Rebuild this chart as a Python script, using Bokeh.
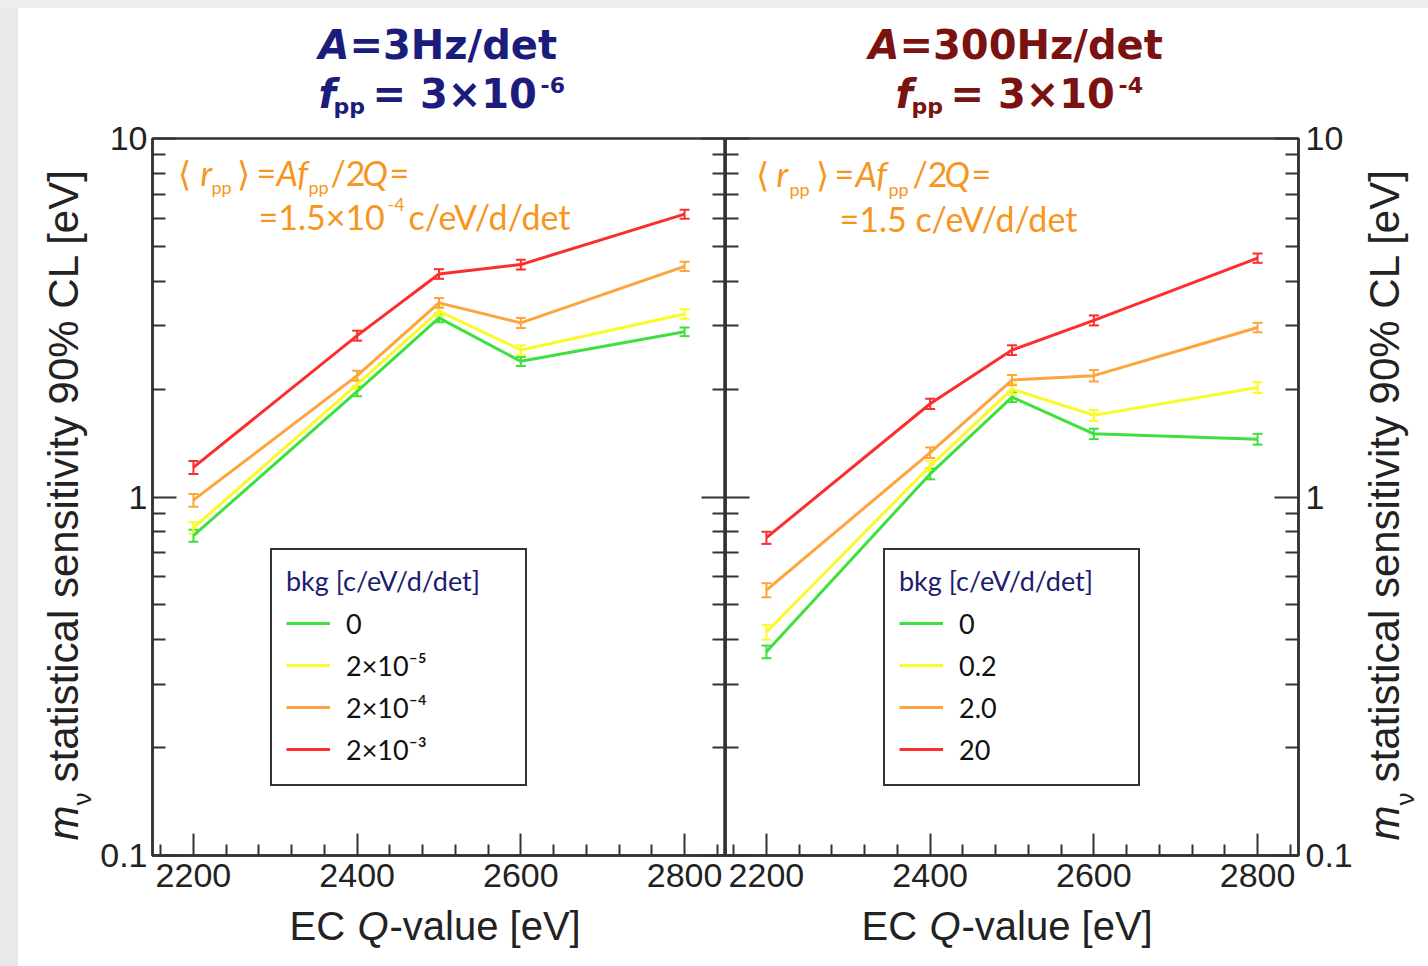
import math
from bokeh.plotting import figure
from bokeh.models import (LogAxis, FixedTicker, Range1d, Label, Legend, LegendItem, Whisker,
                          TeeHead, ColumnDataSource, Div, CustomJSTickFormatter)
from bokeh.layouts import row, column
from bokeh.embed import file_html
from bokeh.resources import INLINE

# ---------------- data ----------------
q_values = [2200, 2400, 2500, 2600, 2800]
x_ticks = [2200, 2400, 2600, 2800]
y_ticks = [0.1, 1, 10]

series_colors = ["#3ee03e", "#fafa2a", "#ffa43a", "#fb2d2d"]

# Panel 1: A = 3 Hz/det, f_pp = 3e-6
left_bkg_labels = ["0", "2×10⁻⁵", "2×10⁻⁴", "2×10⁻³"]
left_bkg0 = [0.78, 1.97, 3.16, 2.39, 2.89]
left_bkg1 = [0.82, 2.06, 3.30, 2.57, 3.24]
left_bkg2 = [0.98, 2.18, 3.48, 3.06, 4.40]
left_bkg3 = [1.21, 2.82, 4.19, 4.45, 6.15]
left_err0 = [0.03, 0.06, 0.09, 0.07, 0.08]
left_err1 = [0.03, 0.06, 0.10, 0.08, 0.10]
left_err2 = [0.04, 0.07, 0.11, 0.10, 0.13]
left_err3 = [0.05, 0.09, 0.13, 0.14, 0.18]

# Panel 2: A = 300 Hz/det, f_pp = 3e-4
right_bkg_labels = ["0", "0.2", "2.0", "20"]
right_bkg0 = [0.37, 1.16, 1.90, 1.50, 1.45]
right_bkg1 = [0.42, 1.22, 2.00, 1.69, 2.02]
right_bkg2 = [0.55, 1.33, 2.12, 2.18, 2.97]
right_bkg3 = [0.77, 1.82, 2.57, 3.11, 4.64]
right_err0 = [0.015, 0.04, 0.06, 0.05, 0.05]
right_err1 = [0.02, 0.04, 0.07, 0.06, 0.07]
right_err2 = [0.025, 0.045, 0.07, 0.08, 0.09]
right_err3 = [0.03, 0.06, 0.08, 0.10, 0.14]

legend_title = "bkg [c/eV/d/det]"
y_label_rest = "statistical sensitivity 90% CL [eV]"

# ---------------- style constants ----------------
AXIS_COLOR = "#333333"
TEXT_COLOR = "#222222"
ORANGE = "#f7961f"
NAVY = "#1c1c7c"
DARKRED = "#7a1212"

# page geometry (pixels)
TOP_STRIP = 8
LEFT_STRIP = 18
PANEL_TOP = 119                   # title canvas: page y 8..119
TITLE_H = PANEL_TOP - TOP_STRIP
FRAME_TOP = 138
FRAME_BOTTOM = 855
XLAB_TOP = 902
PAGE_H = 966
LLAB_W = 78                       # page x 18..96
PL_W = 629                        # page x 96..725
PR_W = 635                        # page x 725..1360
RLAB_W = 68                       # page x 1360..1428


def style_axis(ax, show_labels=True, major_in=22, minor_in=11):
    ax.axis_line_color = AXIS_COLOR
    ax.axis_line_width = 2.5
    ax.major_tick_line_color = AXIS_COLOR
    ax.major_tick_line_width = 2
    ax.minor_tick_line_color = AXIS_COLOR
    ax.minor_tick_line_width = 2
    ax.major_tick_in = major_in
    ax.major_tick_out = 0
    ax.minor_tick_in = minor_in
    ax.minor_tick_out = 0
    ax.major_label_text_font = "Liberation Sans"
    ax.major_label_text_font_size = "34px"
    ax.major_label_text_color = TEXT_COLOR
    if not show_labels:
        ax.formatter = CustomJSTickFormatter(code="return ''")
        ax.major_label_standoff = 0


def add_text(p, x0, y0, px, py, text, size, color, font, style="normal", angle=0.0):
    """Place a text by page position; (x0, y0) = page position of the frame's bottom-left."""
    p.add_layout(Label(x=px - x0, y=y0 - py, x_units="screen", y_units="screen",
                       text=text, text_font=font, text_font_size=f"{size}px",
                       text_color=color, text_font_style=style, angle=angle,
                       text_align="left", text_baseline="middle"))


def text_canvas(width, height):
    p = figure(width=width, height=height, x_range=Range1d(0, 1), y_range=Range1d(0, 1),
               x_axis_location=None, y_axis_location=None, output_backend="svg",
               toolbar_location=None, min_border=0)
    p.grid.visible = False
    p.outline_line_color = None
    p.background_fill_color = "white"
    p.border_fill_color = "white"
    return p


def build_panel(side, values, errors, labels, width, border_left, border_right):
    p = figure(width=width, height=XLAB_TOP - PANEL_TOP, x_range=Range1d(2150, 2850),
               y_range=Range1d(0.1, 10), y_axis_type="log", y_axis_location=side,
               output_backend="svg", toolbar_location=None,
               min_border_left=border_left, min_border_right=border_right,
               min_border_top=FRAME_TOP - PANEL_TOP, min_border_bottom=XLAB_TOP - FRAME_BOTTOM)
    p.xgrid.visible = False
    p.ygrid.visible = False
    p.outline_line_color = AXIS_COLOR
    p.outline_line_width = 2.5
    p.background_fill_color = "white"
    p.border_fill_color = "white"

    xt = FixedTicker(ticks=x_ticks,
                     minor_ticks=[v for v in range(2160, 2850, 40) if v % 200 != 0])
    yt = FixedTicker(ticks=y_ticks,
                     minor_ticks=[k * 10.0 ** e for e in (-1, 0) for k in range(2, 10)])

    xa = p.xaxis[0]
    xa.ticker = xt
    style_axis(xa)
    xa.major_label_standoff = 8

    ya = p.yaxis[0]
    ya.ticker = yt
    ya.formatter = CustomJSTickFormatter(code="return tick.toString()")
    style_axis(ya, major_in=24, minor_in=13)
    ya.major_label_standoff = 5 if side == "left" else 7

    other = LogAxis(ticker=yt)
    style_axis(other, show_labels=False, major_in=24, minor_in=13)
    p.add_layout(other, "right" if side == "left" else "left")

    items = []
    for vals, errs, color, lab in zip(values, errors, series_colors, labels):
        src = ColumnDataSource(dict(q=q_values, v=vals,
                                    hi=[a + b for a, b in zip(vals, errs)],
                                    lo=[a - b for a, b in zip(vals, errs)]))
        r = p.line(x="q", y="v", source=src, line_color=color, line_width=3)
        w = Whisker(source=src, base="q", upper="hi", lower="lo", dimension="height",
                    line_color=color, line_width=2,
                    upper_head=TeeHead(size=10, line_color=color, line_width=2),
                    lower_head=TeeHead(size=10, line_color=color, line_width=2))
        p.add_layout(w)
        items.append(LegendItem(label=lab, renderers=[r]))
    return p, items


def add_legend(p, items, loc):
    leg = Legend(items=items, location=loc, title=legend_title,
                 title_text_font="Lato", title_text_font_size="27px",
                 title_text_color="#1c1c6e", title_text_font_style="normal",
                 title_standoff=5,
                 label_text_font="Lato", label_text_font_size="27px", label_text_color="#111111",
                 glyph_width=44, glyph_height=42, label_height=42, label_width=165,
                 label_standoff=16, padding=14, spacing=0, margin=0,
                 border_line_color="#333333", border_line_width=2.5, border_line_alpha=1.0,
                 background_fill_color="white", background_fill_alpha=1.0)
    p.add_layout(leg)


# ---------------- panels ----------------
pl, items_l = build_panel("left",
                          [left_bkg0, left_bkg1, left_bkg2, left_bkg3],
                          [left_err0, left_err1, left_err2, left_err3],
                          left_bkg_labels, PL_W, 56, 0)
add_legend(pl, items_l, (118, 69))
for t, x, y, s, st in [("⟨", 177, 172, 34, "normal"), ("r", 200, 172, 34, "italic"),
                       ("pp", 211, 186, 18, "normal"), ("⟩", 236, 172, 34, "normal"),
                       ("=", 256, 172, 34, "normal"), ("Af", 276, 172, 34, "italic"),
                       ("pp", 308, 186, 18, "normal"), ("/2", 330, 172, 34, "normal"),
                       ("Q", 362, 172, 34, "italic"), ("=", 389, 172, 34, "normal"),
                       ("=1.5×10", 258, 216, 34, "normal"), ("-4", 387, 204, 18, "normal"),
                       ("c/eV/d/det", 408, 216, 34, "normal")]:
    add_text(pl, 152, FRAME_BOTTOM, x, y, t, s, ORANGE, "Lato", st)

pr, items_r = build_panel("right",
                          [right_bkg0, right_bkg1, right_bkg2, right_bkg3],
                          [right_err0, right_err1, right_err2, right_err3],
                          right_bkg_labels, PR_W, 0, 62)
add_legend(pr, items_r, (158, 69))
for t, x, y, s, st in [("⟨", 755, 173, 34, "normal"), ("r", 776, 173, 34, "italic"),
                       ("pp", 789, 188, 18, "normal"), ("⟩", 815, 173, 34, "normal"),
                       ("=", 834, 173, 34, "normal"), ("Af", 855, 173, 34, "italic"),
                       ("pp", 888, 188, 18, "normal"), ("/2", 912, 173, 34, "normal"),
                       ("Q", 944, 173, 34, "italic"), ("=", 971, 173, 34, "normal"),
                       ("=1.5 c/eV/d/det", 839, 218, 34, "normal")]:
    add_text(pr, 725, FRAME_BOTTOM, x, y, t, s, ORANGE, "Lato", st)

# ---------------- title canvas ----------------
tf = text_canvas(1428 - LEFT_STRIP, TITLE_H)
for t, x, y, s, st, c in [
        ("A", 318, 44, 40, "bold italic", NAVY), ("=3Hz/det", 349, 44, 40, "bold", NAVY),
        ("f", 318, 93, 40, "bold italic", NAVY), ("pp", 333, 106, 22, "bold", NAVY),
        ("= 3×10", 372, 93, 40, "bold", NAVY), ("-6", 540, 84, 22, "bold", NAVY),
        ("A", 868, 44, 40, "bold italic", DARKRED), ("=300Hz/det", 899, 44, 40, "bold", DARKRED),
        ("f", 895, 93, 40, "bold italic", DARKRED), ("pp", 911, 106, 22, "bold", DARKRED),
        ("= 3×10", 950, 93, 40, "bold", DARKRED), ("-4", 1118, 84, 22, "bold", DARKRED)]:
    add_text(tf, LEFT_STRIP, PANEL_TOP, x, y, t, s, c, "DejaVu Sans", st)

# ---------------- y-label canvases ----------------
ylf = text_canvas(LLAB_W, PAGE_H - PANEL_TOP)
for t, cx, y, s, st in [("m", 63, 840, 42, "italic"), ("ν", 81, 805, 26, "normal"),
                        (y_label_rest, 63, 782, 42, "normal")]:
    add_text(ylf, LEFT_STRIP, PAGE_H, cx, y, t, s, TEXT_COLOR, "Liberation Sans", st,
             angle=math.pi / 2)

yrf = text_canvas(RLAB_W, PAGE_H - PANEL_TOP)
for t, cx, y, s, st in [("m", 1384, 840, 42, "italic"), ("ν", 1404, 805, 26, "normal"),
                        (y_label_rest, 1384, 782, 42, "normal")]:
    add_text(yrf, 1360, PAGE_H, cx, y, t, s, TEXT_COLOR, "Liberation Sans", st,
             angle=math.pi / 2)

# ---------------- x-label canvas ----------------
xlf = text_canvas(PL_W + PR_W, PAGE_H - XLAB_TOP)
x0 = LEFT_STRIP + LLAB_W
for t, x, st in [("EC ", 289, "normal"), ("Q", 357, "italic"), ("-value [eV]", 389, "normal"),
                 ("EC ", 861, "normal"), ("Q", 929, "italic"), ("-value [eV]", 961, "normal")]:
    add_text(xlf, x0, PAGE_H, x, 925, t, 40, TEXT_COLOR, "Liberation Sans", st)

# ---------------- page ----------------
top_strip = Div(text="", width=1428, height=TOP_STRIP, margin=0,
                styles={"background-color": "#efefef"})
left_strip = Div(text="", width=LEFT_STRIP, height=PAGE_H - TOP_STRIP, margin=0,
                 styles={"background-color": "#e9e9e9"})
middle = column(row(pl, pr), xlf)
body = column(tf, row(ylf, middle, yrf))
layout = column(top_strip, row(left_strip, body))

open("out.html", "w").write(file_html(layout, INLINE))
